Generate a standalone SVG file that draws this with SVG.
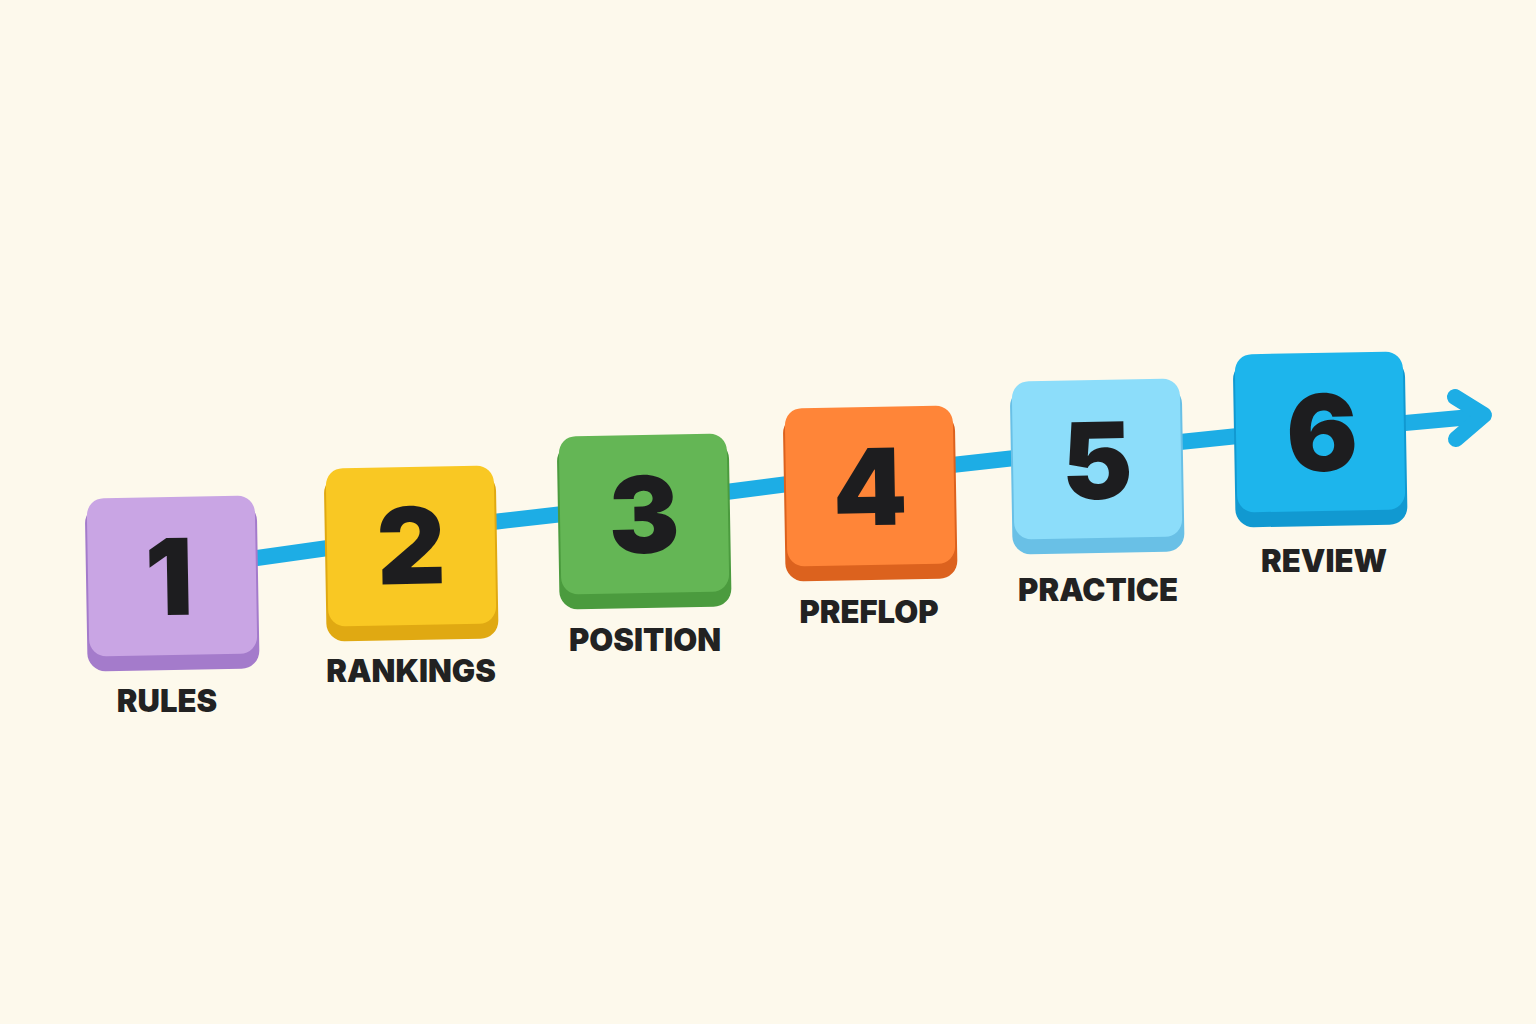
<svg xmlns="http://www.w3.org/2000/svg" width="1536" height="1024" viewBox="0 0 1536 1024">
  <style>
    .num { font-family: "Inter", "Lato", "Open Sans", sans-serif; font-weight: 900; font-size: 106px; fill: #1d1d1f; text-anchor: middle; }
    .lbl { font-family: "Inter", "Lato", "Open Sans", sans-serif; font-weight: 900; font-size: 31px; fill: #222222; text-anchor: middle; }
    .conn { fill: none; stroke: #1dade5; stroke-width: 16; stroke-linecap: round; stroke-linejoin: round; }
  </style>
  <rect width="1536" height="1024" fill="#fdf9ec"/>
  <g id="connectors">
    <polyline class="conn" points="200,565 257,558 328,548 493,522 563,514 726,492 788,484 952,465 1015,458 1180,442 1238,436 1405,423 1482,416"/>
    <polyline class="conn" points="1455,397 1484,415 1456,439"/>
  </g>
  <g id="node1" transform="translate(172,576) rotate(-1)">
    <rect x="-86" y="-72" width="172" height="166" rx="18" fill="#a47bcb"/>
    <rect x="-84" y="-79" width="168" height="158" rx="17" fill="#c9a5e4"/>
    <text class="num" x="-3" y="39">1</text>
  </g>
  <g id="node2" transform="translate(411,546) rotate(-1)">
    <rect x="-86" y="-72" width="172" height="166" rx="18" fill="#e0a912"/>
    <rect x="-84" y="-79" width="168" height="158" rx="17" fill="#f9c823"/>
    <text class="num" x="0" y="38">2</text>
  </g>
  <g id="node3" transform="translate(644,514) rotate(-1)">
    <rect x="-86" y="-72" width="172" height="166" rx="18" fill="#4b9b3e"/>
    <rect x="-84" y="-79" width="168" height="158" rx="17" fill="#64b655"/>
    <text class="num" x="0" y="39">3</text>
  </g>
  <g id="node4" transform="translate(870,486) rotate(-1)">
    <rect x="-86" y="-72" width="172" height="166" rx="18" fill="#dc621e"/>
    <rect x="-84" y="-79" width="168" height="158" rx="17" fill="#ff8538"/>
    <text class="num" x="0" y="39">4</text>
  </g>
  <g id="node5" transform="translate(1097,459) rotate(-1)">
    <rect x="-86" y="-72" width="172" height="166" rx="18" fill="#69c0e6"/>
    <rect x="-84" y="-79" width="168" height="158" rx="17" fill="#8cddfa"/>
    <text class="num" x="0" y="40">5</text>
  </g>
  <g id="node6" transform="translate(1320,432) rotate(-1)">
    <rect x="-86" y="-72" width="172" height="166" rx="18" fill="#1199d1"/>
    <rect x="-84" y="-79" width="168" height="158" rx="17" fill="#1db5ec"/>
    <text class="num" x="2" y="39">6</text>
  </g>
  <g id="labels">
    <text class="lbl" x="167" y="712">RULES</text>
    <text class="lbl" x="411" y="682">RANKINGS</text>
    <text class="lbl" x="645" y="651">POSITION</text>
    <text class="lbl" x="869" y="623">PREFLOP</text>
    <text class="lbl" x="1098" y="601">PRACTICE</text>
    <text class="lbl" x="1324" y="572">REVIEW</text>
  </g>
</svg>
